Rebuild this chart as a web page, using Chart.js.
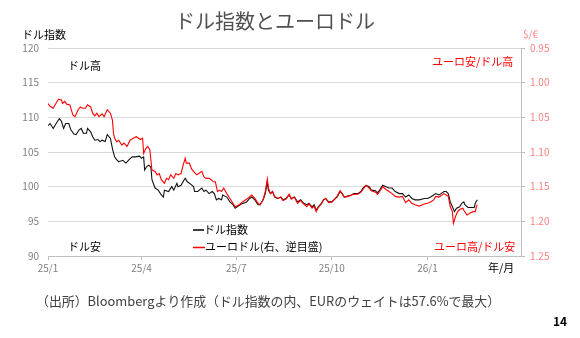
<!DOCTYPE html>
<html>
<head>
<meta charset="utf-8">
<script src="https://cdn.jsdelivr.net/npm/chart.js@4/dist/chart.umd.min.js"></script>
<style>
  html, body { margin: 0; padding: 0; background: #fff; }
</style>
</head>
<body>
<canvas id="mychart" width="580" height="338"></canvas>
<script>
// x = days since 2025/1/1
const dxyDays = [0,2,5,9,11,13,15,17,20,22,25,27,30,32,34,37,38,41,43,45,48,50,52,55,57,60,62,64,66,68,72,75,78,81,84,88,90,92,93,95,97,99,100,102,103,106,109,111,112,116,119,121,124,125,128,131,132,134,136,140,141,144,148,150,152,155,158,160,162,164,167,168,172,175,178,180,183,186,191,194,196,199,202,204,207,209,211,212,214,216,218,221,224,226,229,232,234,237,240,243,246,249,251,254,256,258,260,263,265,267,270,273,275,278,281,283,285,289,292,294,298,301,303,306,309,311,315,317,319,322,325,328,331,334,338,341,344,347,350,353,357,362,365,368,371,373,376,378,381,383,385,387,389,391,393,396,398,400,401,404,408,410,411,413];
const dxyValues = [108.8,109.1,108.4,109.4,109.8,109.4,108.4,109.1,109.1,108.2,107.6,107.5,108.2,108.4,107.7,107.7,108.4,107.9,107.2,106.7,106.8,106.5,106.7,106.5,107.5,107.0,105.5,104.3,103.9,103.6,103.8,103.4,103.9,104.3,104.3,104.4,104.1,104.3,102.4,102.9,103.1,102.8,101.0,100.2,99.8,99.5,98.8,98.5,99.5,99.3,100.0,99.5,100.5,100.0,100.2,101.0,101.2,100.7,100.5,100.0,99.3,99.3,99.8,99.3,99.5,99.0,99.3,99.0,98.1,98.3,98.1,98.8,98.5,97.8,97.4,96.9,97.2,97.5,97.8,98.3,98.5,98.1,97.4,97.4,98.1,99.0,100.7,99.5,99.0,99.3,98.5,98.3,98.5,98.1,98.3,98.8,98.3,98.5,97.8,98.1,97.6,97.4,97.6,97.1,97.4,96.6,97.1,97.6,98.1,98.3,97.8,97.8,98.1,98.5,99.3,99.0,98.5,98.7,98.8,99.0,99.0,99.3,99.8,100.2,100.0,99.5,99.4,99.1,99.5,100.2,100.0,99.8,99.8,99.3,99.0,99.0,98.5,98.8,98.3,98.1,98.1,98.3,98.3,98.5,98.8,99.0,98.8,99.0,99.3,99.3,99.0,97.8,97.1,96.4,96.9,97.1,97.6,97.8,97.4,97.0,97.0,97.0,97.6,98.1];

const eurDays = [0,2,5,8,10,13,14,16,18,21,24,26,29,31,33,36,38,41,43,45,47,49,52,54,57,60,62,63,64,66,68,71,73,76,79,82,85,89,91,92,94,96,98,100,103,105,107,109,112,114,116,118,121,123,125,128,130,132,133,136,138,140,143,145,148,150,152,155,157,159,161,163,165,167,169,172,175,178,180,184,187,192,196,199,202,204,207,209,211,212,214,216,218,221,224,226,229,232,234,237,240,243,246,249,251,254,256,258,260,263,265,267,270,273,275,278,281,283,285,289,292,294,298,301,303,306,309,311,315,317,319,322,325,328,331,334,338,341,344,347,350,353,357,362,365,368,371,373,376,378,381,383,385,387,389,390,392,394,396,399,400,403,406,409,411,412,413];
const eurValues = [1.030,1.034,1.037,1.029,1.024,1.025,1.030,1.027,1.031,1.032,1.047,1.049,1.039,1.035,1.037,1.037,1.032,1.035,1.044,1.048,1.044,1.049,1.045,1.049,1.039,1.044,1.054,1.073,1.080,1.085,1.083,1.090,1.087,1.092,1.083,1.080,1.078,1.082,1.080,1.102,1.095,1.092,1.097,1.126,1.128,1.133,1.131,1.140,1.145,1.138,1.140,1.133,1.138,1.131,1.133,1.131,1.119,1.109,1.116,1.116,1.124,1.128,1.133,1.131,1.128,1.136,1.138,1.138,1.140,1.143,1.143,1.157,1.155,1.157,1.152,1.160,1.167,1.174,1.179,1.176,1.172,1.167,1.162,1.167,1.174,1.176,1.168,1.157,1.139,1.152,1.160,1.157,1.164,1.167,1.165,1.170,1.168,1.161,1.168,1.165,1.174,1.170,1.175,1.179,1.175,1.181,1.178,1.186,1.180,1.175,1.169,1.167,1.173,1.172,1.169,1.164,1.156,1.160,1.165,1.164,1.162,1.161,1.161,1.158,1.154,1.148,1.152,1.156,1.158,1.161,1.157,1.150,1.154,1.157,1.160,1.164,1.165,1.164,1.173,1.169,1.174,1.176,1.178,1.175,1.174,1.172,1.169,1.164,1.165,1.163,1.160,1.162,1.164,1.179,1.186,1.203,1.193,1.186,1.183,1.181,1.184,1.191,1.188,1.186,1.186,1.179,1.176];

const xTickDays = [0, 90, 181, 273, 365];
const xTickLabels = ['25/1', '25/4', '25/7', '25/10', '26/1'];

const JP = '"Noto Sans CJK JP", "Noto Sans", sans-serif';

// extra texts: title, notes, legend, footer
const textPlugin = {
    id: 'texts',
    afterDraw: function (chart) {
        const ctx = chart.ctx;
        ctx.save();
        ctx.textBaseline = 'middle';

        ctx.font = '20px ' + JP;
        ctx.fillStyle = '#505050';
        ctx.textAlign = 'center';
        ctx.fillText('ドル指数とユーロドル', 275, 21);

        ctx.textAlign = 'left';
        ctx.font = '11px ' + JP;
        ctx.fillStyle = '#000';
        ctx.fillText('ドル指数', 22, 35);
        ctx.fillText('ドル高', 68, 66);
        ctx.fillText('ドル安', 68, 247);
        ctx.fillText('年/月', 488, 268);

        ctx.fillStyle = '#ff0000';
        ctx.fillText('ユーロ安/ドル高', 432, 62);
        ctx.fillText('ユーロ高/ドル安', 434, 247);

        ctx.fillStyle = '#ff7f7f';
        ctx.font = '10px ' + JP;
        ctx.fillText('$/€', 523, 34);

        // legend
        ctx.lineWidth = 1.5;
        ctx.strokeStyle = '#000';
        ctx.beginPath(); ctx.moveTo(193, 230); ctx.lineTo(204, 230); ctx.stroke();
        ctx.strokeStyle = '#ff0000';
        ctx.beginPath(); ctx.moveTo(193, 247.5); ctx.lineTo(205, 247.5); ctx.stroke();
        ctx.font = '11px ' + JP;
        ctx.fillStyle = '#000';
        ctx.fillText('ドル指数', 204, 230);
        ctx.fillText('ユーロドル(右、逆目盛)', 205, 247);

        // footer
        ctx.font = '12.9px ' + JP;
        ctx.fillStyle = '#404040';
        ctx.fillText('（出所）Bloombergより作成（ドル指数の内、EURのウェイトは57.6%で最大）', 36, 301);
        ctx.font = 'bold 12px ' + JP;
        ctx.fillStyle = '#000';
        ctx.fillText('14', 553, 321);
        ctx.restore();
    }
};

const dxyData = dxyDays.map((d, i) => ({ x: d, y: dxyValues[i] }));
const eurData = eurDays.map((d, i) => ({ x: d, y: eurValues[i] }));

var ctx = document.getElementById('mychart').getContext('2d');
var chart = new Chart(ctx, {
    type: 'line',
    data: {
        datasets: [{
            label: 'ドル指数',
            data: dxyData,
            yAxisID: 'y',
            borderColor: '#111',
            borderWidth: 1.1,
            pointRadius: 0,
            order: 2
        }, {
            label: 'ユーロドル(右、逆目盛)',
            data: eurData,
            yAxisID: 'y1',
            borderColor: '#ff0000',
            borderWidth: 1.1,
            pointRadius: 0,
            order: 1
        }]
    },
    options: {
        responsive: false,
        animation: false,
        layout: { padding: { top: 48, left: 0, right: 0, bottom: 62 } },
        plugins: {
            legend: { display: false },
            tooltip: { enabled: false }
        },
        scales: {
            x: {
                type: 'linear',
                min: 0,
                max: 455,
                afterBuildTicks: function (s) { s.ticks = xTickDays.map(v => ({ value: v })); },
                afterFit: function (s) { s.height = 20; },
                ticks: {
                    callback: function (v) { return xTickLabels[xTickDays.indexOf(v)]; },
                    color: '#7f7f7f',
                    font: { family: JP, size: 10 },
                    padding: 2,
                    maxRotation: 0,
                    autoSkip: false
                },
                grid: { drawOnChartArea: false, tickLength: 4, color: '#bfbfbf' },
                border: { color: '#bfbfbf' }
            },
            y: {
                position: 'left',
                min: 90,
                max: 120,
                afterFit: function (s) { s.width = 48; },
                ticks: { stepSize: 5, color: '#7f7f7f', font: { family: JP, size: 10 }, padding: 9 },
                grid: { color: '#d9d9d9', drawTicks: false },
                border: { display: false }
            },
            y1: {
                position: 'right',
                reverse: true,
                min: 0.95,
                max: 1.25,
                afterFit: function (s) { s.width = 59; },
                ticks: {
                    stepSize: 0.05,
                    callback: function (v) { return v.toFixed(2); },
                    color: '#ff7f7f',
                    font: { family: JP, size: 10 },
                    padding: 5
                },
                grid: { drawOnChartArea: false, tickLength: 4, color: '#bfbfbf' },
                border: { color: '#bfbfbf' }
            }
        }
    },
    plugins: [textPlugin]
});
</script>
</body>
</html>
